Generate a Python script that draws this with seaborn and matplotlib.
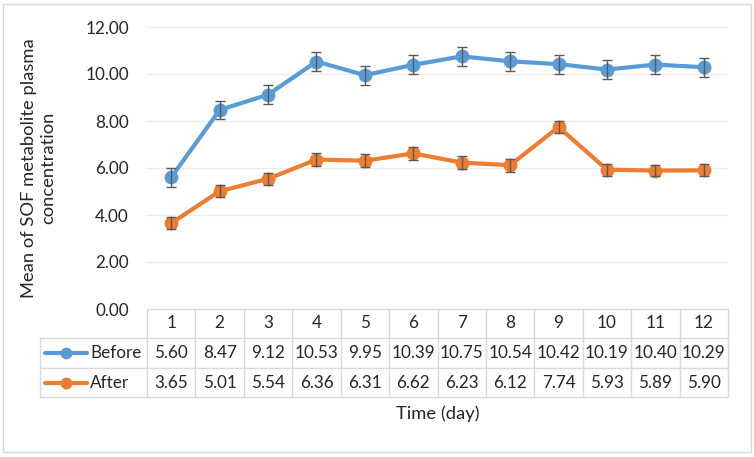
import pandas as pd
import seaborn as sns
import matplotlib.pyplot as plt
import matplotlib.transforms as mtransforms
from matplotlib.patches import Rectangle
from matplotlib.lines import Line2D

# data
days = [1, 2, 3, 4, 5, 6, 7, 8, 9, 10, 11, 12]
before = [5.60, 8.47, 9.12, 10.53, 9.95, 10.39, 10.75, 10.54, 10.42, 10.19, 10.40, 10.29]
after = [3.65, 5.01, 5.54, 6.36, 6.31, 6.62, 6.23, 6.12, 7.74, 5.93, 5.89, 5.90]
before_err = [0.42, 0.40, 0.40, 0.40, 0.40, 0.40, 0.40, 0.40, 0.40, 0.40, 0.40, 0.40]
after_err = [0.25, 0.25, 0.25, 0.27, 0.27, 0.27, 0.27, 0.27, 0.27, 0.25, 0.25, 0.25]
series = ['Before', 'After']
colors = {'Before': '#5B9BD5', 'After': '#ED7D31'}

df = pd.DataFrame({'day': days * 2,
                   'value': before + after,
                   'series': ['Before'] * 12 + ['After'] * 12})

sns.set_theme(style='white')
plt.rcParams['font.family'] = ['Lato', 'DejaVu Sans']
fs = 12.3

W, H = 754, 457
fig = plt.figure(figsize=(W / 100, H / 100), dpi=100)
ax = fig.add_axes([147 / W, 1 - 309 / H, (728 - 147) / W, (309 - 27) / H])

for y in range(2, 13, 2):
    ax.axhline(y, color='#ececec', lw=1, zorder=0)

ax.errorbar(days, before, yerr=before_err, fmt='none', ecolor='#595959',
            elinewidth=1, capsize=3.5, capthick=1, zorder=3)
ax.errorbar(days, after, yerr=after_err, fmt='none', ecolor='#595959',
            elinewidth=1, capsize=3.5, capthick=1, zorder=3)
sns.lineplot(data=df, x='day', y='value', hue='series', palette=colors,
             marker='o', markersize=10, markeredgewidth=0, linewidth=3,
             legend=False, ax=ax, zorder=2)

ax.set_xlim(0.5, 12.5)
ax.set_ylim(0, 12)
ax.set_yticks(range(0, 13, 2))
ax.set_yticklabels(['%.2f' % v for v in range(0, 13, 2)], fontsize=fs, color='#262626')
ax.set_xticks([])
ax.set_xlabel('')
ax.set_ylabel('Mean of SOF metabolite plasma\nconcentration', fontsize=13.2,
              color='#262626')
ax.yaxis.set_label_coords(-0.157, 0.5)
ax.tick_params(axis='y', length=0, pad=13)
for s in ax.spines.values():
    s.set_visible(False)

# data table under the plot
tr = mtransforms.blended_transform_factory(ax.transData, fig.transFigure)
rows_px = [309, 338, 368, 397]
ry = [1 - p / H for p in rows_px]
gc = '#d9d9d9'
left_fig = 40 / W
right_fig = 728 / W
for i, yy in enumerate(ry):
    x0 = 147 / W if i == 0 else left_fig
    fig.add_artist(Line2D([x0, right_fig], [yy, yy], color=gc, lw=1))
for k in range(13):
    fig.add_artist(Line2D([k + 0.5, k + 0.5], [ry[0], ry[3]], color=gc, lw=1, transform=tr))
fig.add_artist(Line2D([left_fig, left_fig], [ry[1], ry[3]], color=gc, lw=1))

for d in days:
    fig.text(d, (ry[0] + ry[1]) / 2, str(d), transform=tr, ha='center', va='center',
             fontsize=fs, color='#262626')
for r, (name, vals) in enumerate(zip(series, [before, after])):
    yc = (ry[r + 1] + ry[r + 2]) / 2
    for d, v in zip(days, vals):
        fig.text(d, yc, '%.2f' % v, transform=tr, ha='center', va='center',
                 fontsize=fs, color='#262626')
    fig.add_artist(Line2D([45 / W, 87 / W], [yc, yc], color=colors[name], lw=3))
    fig.add_artist(Line2D([66 / W], [yc], color=colors[name], marker='o',
                          markersize=8.5, markeredgewidth=0))
    fig.text(90 / W, yc, name, ha='left', va='center', fontsize=fs, color='#262626')

fig.text((147 + 728) / 2 / W, 1 - 414 / H, 'Time (day)', ha='center', va='center',
         fontsize=13.2, color='#262626')

fig.add_artist(Rectangle((3 / W, 1 - 452 / H), 748 / W, 448 / H, fill=False,
                         edgecolor='#d9d9d9', lw=1))

fig.savefig('out.png', dpi=100)
